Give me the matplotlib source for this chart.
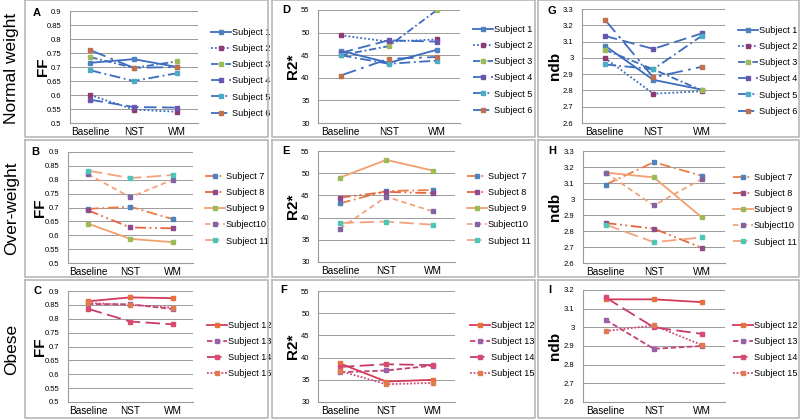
import matplotlib.pyplot as plt
from matplotlib.lines import Line2D

plt.rcParams['font.family'] = ['Liberation Sans', 'DejaVu Sans']

timepoints = ["Baseline", "NST", "WM"]

# Normal weight, subjects 1-6
nw_labels = ["Subject 1", "Subject 2", "Subject 3", "Subject 4", "Subject 5", "Subject 6"]
nw_ff = [[0.715, 0.728, 0.700], [0.600, 0.548, 0.540], [0.735, 0.697, 0.720],
         [0.583, 0.557, 0.555], [0.688, 0.650, 0.678], [0.760, 0.697, 0.700]]
nw_r2 = [[46.0, 43.3, 46.2], [49.4, 48.0, 48.5], [45.0, 47.0, 55.0],
         [45.5, 48.3, 48.0], [45.0, 43.1, 43.8], [40.5, 44.2, 44.6]]
nw_ndb = [[3.075, 2.865, 2.805], [3.00, 2.78, 2.795], [3.05, 2.93, 2.80],
          [3.135, 3.055, 3.15], [2.96, 2.93, 3.135], [3.235, 2.88, 2.945]]

# Over-weight, subjects 7-11
ow_labels = ["Subject 7", "Subject 8", "Subject 9", "Subject10", "Subject 11"]
ow_ff = [[0.695, 0.703, 0.658], [0.690, 0.628, 0.625], [0.642, 0.587, 0.575],
         [0.820, 0.737, 0.800], [0.833, 0.806, 0.817]]
ow_r2 = [[43.2, 46.0, 46.2], [44.5, 45.8, 45.5], [49.0, 53.0, 50.6],
         [37.5, 44.7, 41.4], [38.8, 39.1, 38.4]]
ow_ndb = [[3.09, 3.23, 3.145], [2.85, 2.815, 2.695], [3.165, 3.135, 2.885],
          [3.165, 2.96, 3.125], [2.84, 2.73, 2.76]]

# Obese, subjects 12-15
ob_labels = ["Subject 12", "Subject 13", "Subject 14", "Subject 15"]
ob_ff = [[0.863, 0.877, 0.874], [0.853, 0.852, 0.835], [0.836, 0.790, 0.780],
         [0.857, 0.850, 0.840]]
ob_r2 = [[38.7, 34.6, 35.0], [36.7, 37.1, 38.2], [37.9, 38.5, 38.3],
         [37.0, 34.0, 34.3]]
ob_ndb = [[3.15, 3.15, 3.135], [3.04, 2.885, 2.90], [3.16, 3.00, 2.965],
          [2.98, 3.01, 2.905]]

row_names = ["Normal weight", "Over-weight", "Obese"]

## styles per group
marker_cols = ["#4F81BD", "#8E3A73", "#9BBB59", "#6A55B0", "#4BACC6", "#C0704D"]
nw_style = dict(colors=["#3C6CC0"] * 6,
                mcols=marker_cols,
                ls=['-', (0, (1, 1.2)), (0, (4, 1.5, 1, 1.5)), (0, (7, 3)),
                    (0, (6, 2, 1, 2)), (0, (9, 3, 1.5, 3))])
ow_style = dict(colors=["#EE7A45", "#E8643C", "#F2A06E", "#F4A27E", "#F4A27E"],
                mcols=["#4F81BD", "#8E4A8A", "#9BBB59", "#8064A2", "#4BC6B8"],
                ls=[(0, (6, 2, 1, 2)), (0, (6, 2, 1, 2, 1, 2)), '-', (0, (3, 2)), (0, (8, 3))])
ob_style = dict(colors=["#D23C58", "#C84078", "#C83C6A", "#D04C78"],
                mcols=["#E8703C", "#9A60A8", "#D84A70", "#E07A50"],
                ls=['-', (0, (3, 1.5)), (0, (8, 3)), (0, (1, 1))])

groups = [(nw_labels, [nw_ff, nw_r2, nw_ndb], nw_style),
          (ow_labels, [ow_ff, ow_r2, ow_ndb], ow_style),
          (ob_labels, [ob_ff, ob_r2, ob_ndb], ob_style)]

ylabels = ["FF", "R2*", "ndb"]
letters = [["A", "D", "G"], ["B", "E", "H"], ["C", "F", "I"]]

W, H = 800, 420
fig = plt.figure(figsize=(8, 4.2), dpi=100)

def fbox(l, r, t, b):
    return [l / W, 1 - b / H, (r - l) / W, (b - t) / H]

# axes boxes in pixels: (left, right, top, bottom)
boxes = [[(70, 198, 11, 123), (318, 460, 10, 123), (582, 725, 9, 123)],
         [(68, 193, 152, 263), (318, 455, 151, 262), (583, 725, 151, 263)],
         [(68, 193, 291, 402), (318, 455, 291, 402), (583, 725, 290, 402)]]
# legend top-left corners in pixels
legend_xy = [[(211, 28), (473, 25), (738, 26)],
             [(205, 172), (467, 172), (733, 173)],
             [(207, 321), (470, 321), (733, 321)]]
letter_xy = [[(37, 13), (286, 10), (552, 11)],
             [(35, 152), (286, 151), (552, 151)],
             [(37, 291), (284, 290), (550, 290)]]
ylabel_x = [[43, 293, 555], [40, 293, 555], [40, 293, 555]]
row_frames = [(0, 137), (140, 277), (280, 418)]
col_frames = [(25, 268), (272, 535), (538, 799)]

ylims = [[(0.5, 0.9, 0.05), (30, 55, 5), (2.6, 3.3, 0.1)],
         [(0.5, 0.9, 0.05), (30, 55, 5), (2.6, 3.3, 0.1)],
         [(0.5, 0.9, 0.05), (30, 55, 5), (2.6, 3.2, 0.1)]]

def fmt(v):
    s = f"{v:.2f}".rstrip('0').rstrip('.')
    return s

for r, (labels, metrics, st) in enumerate(groups):
    for c in range(3):
        l, rr, t, b = boxes[r][c]
        ax = fig.add_axes(fbox(l, rr, t, b))
        lo, hi, step = ylims[r][c]
        n = int(round((hi - lo) / step))
        ticks = [lo + i * step for i in range(n + 1)]
        data = metrics[c]
        for i, vals in enumerate(data):
            ax.plot(range(3), vals, color=st['colors'][i], ls=st['ls'][i], lw=1.3,
                    marker='s', ms=2.6, mfc=st['mcols'][i], mec=st['mcols'][i],
                    label=labels[i], zorder=3)
        ax.set_xlim(-0.47, 2.48)
        ax.set_ylim(lo, hi)
        ax.set_yticks(ticks)
        ax.set_yticklabels([fmt(t) for t in ticks], fontsize=5.5)
        ax.set_xticks(range(3))
        ax.set_xticklabels(timepoints, fontsize=7.2)
        ax.tick_params(axis='both', length=0, pad=3)
        ax.tick_params(axis='y', pad=6)
        ax.yaxis.grid(True, color='#9a9a9a', lw=0.7)
        ax.set_axisbelow(True)
        for s in ['top', 'right']:
            ax.spines[s].set_visible(False)
        for s in ['left', 'bottom']:
            ax.spines[s].set_color('#9a9a9a')
            ax.spines[s].set_linewidth(0.8)
        # y label placed by hand
        fig.text(ylabel_x[r][c] / W, 1 - (t + b) / 2 / H, ylabels[c], rotation=90,
                 fontsize=11, fontweight='bold', ha='center', va='center')
        lx, ly = legend_xy[r][c]
        ax.legend(loc='upper left', bbox_to_anchor=(lx / W, 1 - ly / H),
                  bbox_transform=fig.transFigure, frameon=False, fontsize=6.6,
                  handlelength=2.2, handletextpad=0.05, labelspacing=0.78,
                  borderaxespad=0, borderpad=0)
        tx, ty = letter_xy[r][c]
        fig.text(tx / W, 1 - ty / H, letters[r][c], fontsize=8, fontweight='bold',
                 ha='center', va='center')

# row labels
for r, (t, b) in enumerate(row_frames):
    fig.text(12 / W, 1 - (t + b) / 2 / H, row_names[r], rotation=90, fontsize=12.5,
             ha='center', va='center')

# panel frames
fc = '#b8b8b8'
for (t, b) in row_frames:
    for (l, rr) in col_frames:
        xs = [l / W, rr / W, rr / W, l / W, l / W]
        ys = [1 - t / H, 1 - t / H, 1 - b / H, 1 - b / H, 1 - t / H]
        fig.add_artist(Line2D(xs, ys, color=fc, lw=1.2))

fig.savefig("out.png", dpi=100)
